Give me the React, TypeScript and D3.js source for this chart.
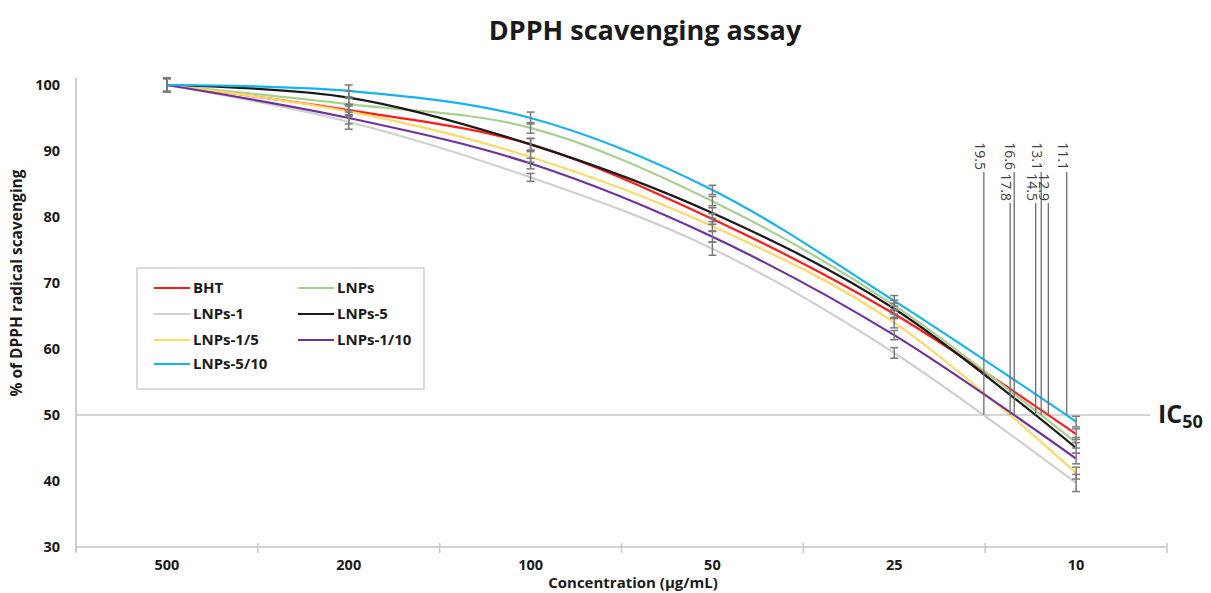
import React, { useRef, useEffect } from 'react';
import * as d3 from 'd3';

// concentrations (µg/mL), shown as equally spaced categories
const categories = ['500', '200', '100', '50', '25', '10'];
const seriesNames = ['BHT', 'LNPs', 'LNPs-1', 'LNPs-5', 'LNPs-1/5', 'LNPs-1/10', 'LNPs-5/10'];
const seriesColors = ['#ff1a1a', '#a9d18e', '#d0d0d0', '#1a1a1a', '#ffd966', '#7030a0', '#14b4f0'];

const bht = [100, 96.2, 91.0, 79.7, 65.3, 47.1];
const lnps = [100, 97.1, 93.5, 82.4, 66.6, 45.8];
const lnps1 = [100, 94.4, 86.0, 75.2, 59.4, 39.7];
const lnps5 = [100, 98.1, 91.0, 80.6, 66.1, 45.0];
const lnps15 = [100, 96.0, 89.1, 78.6, 64.0, 41.2];
const lnps110 = [100, 95.0, 88.1, 77.0, 62.1, 43.4];
const lnps510 = [100, 99.1, 95.0, 84.1, 67.3, 49.0];

const bhtErr = [1.0, 0.8, 0.9, 0.8, 0.7, 0.8];
const lnpsErr = [1.0, 0.9, 0.8, 0.7, 0.8, 0.8];
const lnps1Err = [1.0, 1.1, 0.6, 1.0, 0.8, 1.3];
const lnps5Err = [1.0, 1.0, 0.9, 0.8, 0.8, 0.8];
const lnps15Err = [1.0, 0.8, 0.8, 0.7, 0.8, 0.9];
const lnps110Err = [1.0, 0.9, 0.8, 0.8, 0.7, 0.8];
const lnps510Err = [1.0, 0.9, 0.9, 0.7, 0.8, 0.8];

// IC50 values (µg/mL) per series
const ic50Labels = ['12.9', '13.1', '19.5', '14.5', '17.8', '16.6', '11.1'];

const yTicks = [30, 40, 50, 60, 70, 80, 90, 100];

const allValues = [bht, lnps, lnps1, lnps5, lnps15, lnps110, lnps510];
const allErrors = [bhtErr, lnpsErr, lnps1Err, lnps5Err, lnps15Err, lnps110Err, lnps510Err];

const FONT = '"Open Sans", "DejaVu Sans", sans-serif';

const DpphChart = () => {
  const chartRef = useRef(null);

  useEffect(() => {
    const W = 1211, H = 593;
    d3.select(chartRef.current).select('svg').remove();
    const svg = d3
      .select(chartRef.current)
      .append('svg')
      .attr('width', W)
      .attr('height', H)
      .style('position', 'absolute')
      .style('left', 0)
      .style('top', 0)
      .style('background', '#fff');

    const x = d3.scaleBand().domain(categories).range([76, 1167]).padding(0);
    const y = d3.scaleLinear().domain([30, 100]).range([547, 85]);
    const cx = (c) => x(c) + x.bandwidth() / 2;

    // title
    svg.append('text')
      .attr('x', 645).attr('y', 40)
      .attr('text-anchor', 'middle')
      .style('font-family', FONT).style('font-weight', 700).style('font-size', 27)
      .style('fill', '#1a1a1a')
      .text('DPPH scavenging assay');

    // y axis line + labels
    svg.append('line')
      .attr('x1', 76).attr('x2', 76)
      .attr('y1', y(100) - 7).attr('y2', y(30) + 5)
      .attr('stroke', '#d0d0d0').attr('stroke-width', 2);

    svg.selectAll('.ytick')
      .data(yTicks)
      .enter()
      .append('text')
      .attr('class', 'ytick')
      .attr('x', 60)
      .attr('y', d => y(d))
      .attr('dy', '0.35em')
      .attr('text-anchor', 'end')
      .style('font-family', FONT).style('font-weight', 700).style('font-size', 14.5)
      .style('fill', '#1a1a1a')
      .text(d => d);

    svg.append('text')
      .attr('transform', `translate(22, 283) rotate(-90)`)
      .attr('text-anchor', 'middle')
      .style('font-family', FONT).style('font-weight', 700).style('font-size', 15.5)
      .style('fill', '#1a1a1a')
      .text('% of DPPH radical scavenging');

    // x axis
    svg.append('line')
      .attr('x1', 76).attr('x2', 1167)
      .attr('y1', y(30)).attr('y2', y(30))
      .attr('stroke', '#d0d0d0').attr('stroke-width', 2);

    const boundaries = categories.map(c => x(c)).concat([x(categories[categories.length - 1]) + x.bandwidth()]);
    svg.selectAll('.xtick')
      .data(boundaries)
      .enter()
      .append('line')
      .attr('class', 'xtick')
      .attr('x1', d => d).attr('x2', d => d)
      .attr('y1', y(30) - 4).attr('y2', y(30) + 6)
      .attr('stroke', '#c8c8c8').attr('stroke-width', 1.5);

    svg.selectAll('.xlabel')
      .data(categories)
      .enter()
      .append('text')
      .attr('class', 'xlabel')
      .attr('x', d => cx(d))
      .attr('y', 570)
      .attr('text-anchor', 'middle')
      .style('font-family', FONT).style('font-weight', 700).style('font-size', 14.5)
      .style('fill', '#1a1a1a')
      .text(d => d);

    svg.append('text')
      .attr('x', 633).attr('y', 588)
      .attr('text-anchor', 'middle')
      .style('font-family', FONT).style('font-weight', 700).style('font-size', 15)
      .style('fill', '#1a1a1a')
      .text('Concentration (µg/mL)');

    // IC50 reference line
    svg.append('line')
      .attr('x1', 76).attr('x2', 1150)
      .attr('y1', y(50)).attr('y2', y(50))
      .attr('stroke', '#c8c8c8').attr('stroke-width', 1.5);

    const ic = svg.append('text')
      .attr('x', 1158).attr('y', 423)
      .style('font-family', FONT).style('font-weight', 700)
      .style('fill', '#1a1a1a');
    ic.append('tspan').style('font-size', 25).text('IC');
    ic.append('tspan').attr('dy', 5).style('font-size', 18).text('50');

    // series lines
    const line = d3.line()
      .x((d, i) => cx(categories[i]))
      .y(d => y(d))
      .curve(d3.curveCardinal.tension(0));

    const paths = svg.selectAll('.series')
      .data(allValues)
      .enter()
      .append('path')
      .attr('class', 'series')
      .attr('d', d => line(d))
      .attr('fill', 'none')
      .attr('stroke', (d, i) => seriesColors[i])
      .attr('stroke-width', 2.2);

    // error bars
    allValues.forEach((vals, s) => {
      const g = svg.append('g').attr('stroke', '#7a7a7a').attr('stroke-width', 1.5);
      vals.forEach((v, i) => {
        const px = cx(categories[i]);
        const e = allErrors[s][i];
        g.append('line').attr('x1', px).attr('x2', px).attr('y1', y(v + e)).attr('y2', y(v - e));
        g.append('line').attr('x1', px - 4).attr('x2', px + 4).attr('y1', y(v + e)).attr('y2', y(v + e));
        g.append('line').attr('x1', px - 4).attr('x2', px + 4).attr('y1', y(v - e)).attr('y2', y(v - e));
      });
    });

    // IC50 markers: where each curve crosses 50 %
    const y50 = y(50);
    const crossings = [];
    paths.each(function (d, i) {
      const node = this;
      const L = node.getTotalLength();
      let px = null;
      for (let l = 0; l <= L; l += 0.5) {
        const p = node.getPointAtLength(l);
        if (p.y >= y50) { px = p.x; break; }
      }
      if (px != null) crossings.push({ x: px, label: ic50Labels[i] });
    });
    crossings.sort((a, b) => a.x - b.x);

    crossings.forEach((c, k) => {
      const top = k % 2 === 0 ? 172 : 203;
      svg.append('line')
        .attr('x1', c.x).attr('x2', c.x)
        .attr('y1', top).attr('y2', y50)
        .attr('stroke', '#6e6e6e').attr('stroke-width', 1.3);
      svg.append('text')
        .attr('transform', `translate(${c.x}, ${top - 2}) rotate(90)`)
        .attr('text-anchor', 'end')
        .attr('y', 4)
        .attr('dy', '0.35em')
        .style('font-family', FONT).style('font-size', 14)
        .style('fill', '#404040')
        .text(c.label);
    });

    // legend
    const lg = svg.append('g');
    lg.append('rect')
      .attr('x', 137).attr('y', 268)
      .attr('width', 287).attr('height', 121)
      .attr('fill', '#fff')
      .attr('stroke', '#cfcfcf').attr('stroke-width', 1.5);

    const colX = [154, 298];
    const rowY = [288, 314, 340, 364];
    seriesNames.forEach((name, i) => {
      const lx = colX[i % 2];
      const ly = rowY[Math.floor(i / 2)];
      lg.append('line')
        .attr('x1', lx).attr('x2', lx + 36)
        .attr('y1', ly).attr('y2', ly)
        .attr('stroke', seriesColors[i]).attr('stroke-width', 2);
      lg.append('text')
        .attr('x', lx + 39).attr('y', ly)
        .attr('dy', '0.35em')
        .style('font-family', FONT).style('font-weight', 700).style('font-size', 15)
        .style('fill', '#1a1a1a')
        .text(name);
    });
  }, []);

  return <div ref={chartRef} style={{ width: 1211, height: 593 }}></div>;
};

export default function App() {
  return <DpphChart />;
}
